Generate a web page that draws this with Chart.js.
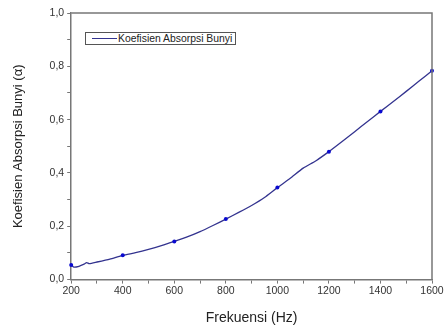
<!DOCTYPE html>
<html>
<head>
<meta charset="utf-8">
<script src="https://cdn.jsdelivr.net/npm/chart.js@4.4.1/dist/chart.umd.min.js"></script>
<style>
  html, body { margin: 0; padding: 0; background: #fff; }
  #wrap { position: relative; width: 445px; height: 327px; }
  #legend {
    position: absolute; left: 85px; top: 32px; height: 11px;
    border: 1px solid #555; background: #fff;
    font: 10.4px "Liberation Sans", Arial, sans-serif; color: #222;
    display: flex; align-items: center; padding: 0 3px 0 6px; line-height: 11px;
  }
  #legend span.ln { display: inline-block; width: 25px; height: 0; border-top: 1.5px solid #33338f; margin-right: 1px; }
</style>
</head>
<body>
<div id="wrap">
  <canvas id="chart" width="445" height="327"></canvas>
  <div id="legend"><span class="ln"></span>Koefisien Absorpsi Bunyi</div>
</div>
<script>
// frequency (Hz) and absorption coefficient
const freqs = [200, 210, 230, 250, 260, 270, 300, 350, 400, 450, 500, 550, 600, 650, 700, 750, 800,
  850, 900, 950, 1000, 1050, 1100, 1150, 1200, 1250, 1300, 1350, 1400, 1450, 1500, 1550, 1600]
const alpha = [0.055, 0.047, 0.050, 0.058, 0.064, 0.060, 0.066, 0.077, 0.091, 0.101, 0.113, 0.127, 0.143,
  0.160, 0.180, 0.203, 0.227, 0.252, 0.278, 0.308, 0.345, 0.380, 0.418, 0.446, 0.480, 0.517, 0.555,
  0.593, 0.631, 0.668, 0.706, 0.745, 0.783]
// measured points shown with markers
const markerFreqs = [200, 400, 600, 800, 1000, 1200, 1400, 1600]

const xTicks = [200, 400, 600, 800, 1000, 1200, 1400, 1600]
const yTicks = ["0,0", "0,2", "0,4", "0,6", "0,8", "1,0"]

const points = freqs.map((f, i) => ({ x: f, y: alpha[i] }))

const frameBox = {
  id: "frameBox",
  afterDraw(chart) {
    const { ctx, chartArea: a } = chart
    ctx.save()
    ctx.strokeStyle = "#777"
    ctx.lineWidth = 1.5
    ctx.beginPath()
    ctx.moveTo(a.left, a.top)
    ctx.lineTo(a.right, a.top)
    ctx.lineTo(a.right, a.bottom)
    ctx.stroke()
    ctx.restore()
  }
}

const ctx = document.getElementById("chart").getContext("2d")
new Chart(ctx, {
  type: "line",
  data: {
    datasets: [
      {
        label: "Koefisien Absorpsi Bunyi",
        data: points,
        borderColor: "#33338f",
        borderWidth: 1.3,
        pointRadius: c => markerFreqs.includes(c.raw && c.raw.x) ? 2 : 0,
        pointBackgroundColor: "#0a0ad0",
        pointBorderWidth: 0,
        tension: 0.2,
        clip: false,
      },
    ],
  },
  options: {
    responsive: false,
    animation: false,
    layout: { padding: { top: 13, right: 13, left: 7, bottom: 0 } },
    plugins: { legend: { display: false }, tooltip: { enabled: false } },
    scales: {
      x: {
        type: "linear",
        min: 200,
        max: 1600,
        ticks: {
          stepSize: 100,
          autoSkip: false,
          maxRotation: 0,
          color: "#333",
          font: { family: "Liberation Sans", size: 10.5 },
          padding: 1,
          callback: v => (xTicks.includes(v) ? String(v) : ""),
        },
        grid: { drawOnChartArea: false, tickLength: 4, color: "#777" },
        border: { color: "#777", width: 1.5 },
        title: {
          display: true,
          text: "Frekuensi (Hz)",
          color: "#222",
          font: { family: "Liberation Sans", size: 14 },
          padding: { top: 12, bottom: 0 },
        },
      },
      y: {
        min: 0,
        max: 1,
        ticks: {
          stepSize: 0.1,
          autoSkip: false,
          color: "#333",
          font: { family: "Liberation Sans", size: 10.5 },
          padding: 3,
          callback: v => {
            const k = Math.round(v * 10)
            return k % 2 === 0 ? yTicks[k / 2] : ""
          },
        },
        grid: { drawOnChartArea: false, tickLength: 4, color: "#777" },
        border: { color: "#777", width: 1.5 },
        title: {
          display: true,
          text: "Koefisien Absorpsi Bunyi (\u03b1)",
          color: "#222",
          font: { family: "Liberation Sans", size: 13 },
          padding: { bottom: 20 },
        },
      },
    },
  },
  plugins: [frameBox],
})
</script>
</body>
</html>
